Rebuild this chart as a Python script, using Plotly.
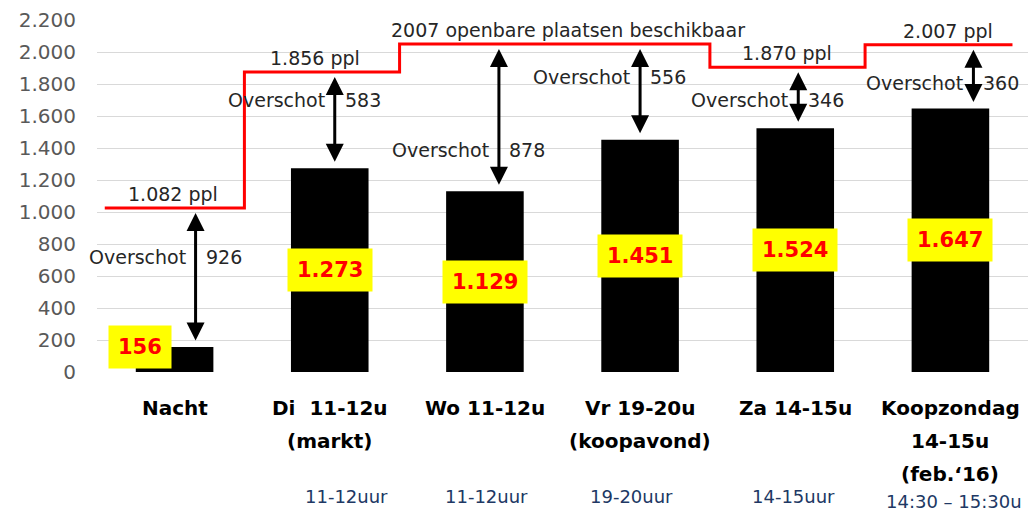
import plotly.graph_objects as go

# categories (one list of lines per bar) and the small time notes under them
CATEGORY_LINES = [
    ["Nacht"],
    ["Di  11-12u", "(markt)"],
    ["Wo 11-12u"],
    ["Vr 19-20u", "(koopavond)"],
    ["Za 14-15u"],
    ["Koopzondag", "14-15u", "(feb.\u201816)"],
]
TIME_NOTES = ["", "11-12uur", "11-12uur", "19-20uur", "14-15uur", "14:30 \u2013 15:30u"]

# occupied places per moment
OCCUPIED = [156, 1273, 1129, 1451, 1524, 1647]
# available places (as written in the labels)
CAPACITY = [1082, 1856, 2007, 2007, 1870, 2007]
# red capacity line as drawn in the picture
CAPACITY_LINE = [1025, 1875, 2050, 2050, 1905, 2045]

Y_TICKS = [0, 200, 400, 600, 800, 1000, 1200, 1400, 1600, 1800, 2000, 2200]

FONT = "DejaVu Sans"


def dotted(n):
    return f"{n:,}".replace(",", ".")


x_idx = list(range(len(OCCUPIED)))

fig = go.Figure()
fig.add_trace(
    go.Bar(x=x_idx, y=OCCUPIED, width=0.5, marker=dict(color="black", line_width=0))
)

# capacity step line
step_x = [-0.45] + [i - 0.55 for i in x_idx[1:]] + [x_idx[-1] + 0.4]
step_y = CAPACITY_LINE + [CAPACITY_LINE[-1]]
fig.add_trace(
    go.Scatter(
        x=step_x, y=step_y, mode="lines", line_shape="hv",
        line=dict(color="#ff0000", width=3),
    )
)

annotations = []

# category labels below the axis
for i, lines in enumerate(CATEGORY_LINES):
    for j, line in enumerate(lines):
        annotations.append(dict(
            x=i, y=0, xref="x", yref="paper", text=line, showarrow=False,
            yanchor="middle", yshift=-36 - 33 * j,
            font=dict(family=FONT, size=20, color="black", weight="bold"),
        ))

note_dx = [0, 17, 2, -9, -2, 4]
for i, note in enumerate(TIME_NOTES):
    if not note:
        continue
    annotations.append(dict(
        x=i, y=0, xref="x", yref="paper", text=note, showarrow=False,
        yanchor="middle", xshift=note_dx[i],
        yshift=-124 - (5 if len(CATEGORY_LINES[i]) > 2 else 0),
        font=dict(family=FONT, size=18, color="#203864"),
    ))

# value boxes
for i, v in enumerate(OCCUPIED):
    if i == 0:
        y, dx = v, -35
    else:
        y, dx = v / 2, 0
    annotations.append(dict(
        x=i, y=y, text=dotted(v), showarrow=False, xshift=dx,
        bgcolor="#ffff00", borderpad=9,
        font=dict(family=FONT, size=21, color="#ff0000", weight="bold"),
    ))

# overschot arrows + labels
arrow_dx = [21, 5, 14, 0, 3, 23]
label_y = [720, 1700, 1390, 1845, 1700, 1805]
for i, v in enumerate(OCCUPIED):
    surplus = CAPACITY[i] - v
    annotations.append(dict(
        x=i, y=CAPACITY_LINE[i], ax=i, ay=v, xref="x", yref="y",
        axref="x", ayref="y", text="", showarrow=True,
        arrowside="end+start", arrowhead=2, startarrowhead=2,
        arrowsize=1.2, startarrowsize=1.2, arrowwidth=3, arrowcolor="black",
        standoff=5, startstandoff=5, xshift=arrow_dx[i],
    ))
    annotations.append(dict(
        x=i, y=label_y[i], text="Overschot", showarrow=False,
        xanchor="right", xshift=arrow_dx[i] - 8,
        font=dict(family=FONT, size=19, color="#262626"),
    ))
    annotations.append(dict(
        x=i, y=label_y[i], text=str(surplus), showarrow=False,
        xanchor="left", xshift=arrow_dx[i] + 8,
        font=dict(family=FONT, size=19, color="#262626"),
    ))

# capacity labels above the red line
segments = [(0, 0, -2), (1, 1, -15), (2, 3, 5), (4, 4, -8), (5, 5, -2)]
for a, b, dx in segments:
    if a != b:
        text = f"{CAPACITY[a]} openbare plaatsen beschikbaar"
    else:
        text = f"{dotted(CAPACITY[a])} ppl"
    annotations.append(dict(
        x=(a + b) / 2, y=CAPACITY_LINE[a], text=text, showarrow=False,
        yanchor="bottom", xshift=dx, yshift=1,
        font=dict(family=FONT, size=19, color="#262626"),
    ))

fig.update_layout(
    width=1036,
    height=512,
    margin=dict(l=97, r=8, t=20, b=140),
    paper_bgcolor="white",
    plot_bgcolor="white",
    showlegend=False,
    bargap=0.5,
    annotations=annotations,
    xaxis=dict(
        range=[-0.5, 5.5], showgrid=False, zeroline=False,
        showticklabels=False, showline=False,
    ),
    yaxis=dict(
        range=[0, 2200], tickvals=Y_TICKS,
        ticktext=[dotted(t) for t in Y_TICKS],
        gridcolor="#d9d9d9", gridwidth=1, zeroline=False, showline=False,
        ticklabelstandoff=20,
        tickfont=dict(family=FONT, size=20, color="#595959"),
    ),
)

# the page body has a default 8px margin; drop it so the figure fills the window
fig.write_html(
    "out.html",
    config={"displayModeBar": False},
    post_script="document.body.style.margin = '0';",
)
